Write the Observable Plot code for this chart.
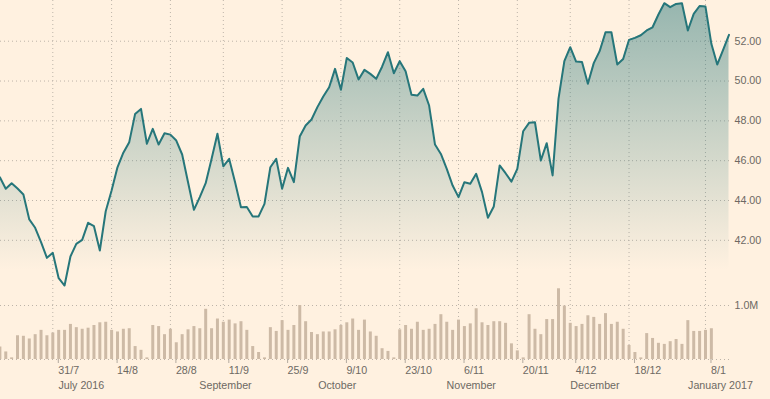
<!DOCTYPE html>
<html><head><meta charset="utf-8">
<script src="https://cdn.jsdelivr.net/npm/d3@7"></script>
<script src="https://cdn.jsdelivr.net/npm/@observablehq/plot@0.6"></script>
<style>
html,body{margin:0;padding:0;background:#fff1e0;}
#chart{position:relative;width:770px;height:399px;overflow:hidden;background:#fff1e0;}
#chart svg{position:absolute;left:0;top:0;}
</style></head><body><div id="chart"></div>
<script>
// Trading-day index 0..124 (19 Jul 2016 .. 13 Jan 2017)
const prices = [
45.17,44.59,44.87,44.60,44.30,43.05,42.63,41.91,41.12,41.37,
40.10,39.73,41.19,41.82,42.02,42.88,42.71,41.49,43.46,44.50,
45.67,46.40,46.93,48.35,48.60,46.85,47.60,46.81,47.38,47.31,
47.01,46.31,44.92,43.53,44.17,44.87,46.09,47.35,45.72,46.09,
44.92,43.66,43.67,43.20,43.20,43.83,45.67,46.09,44.59,45.64,
44.92,47.21,47.77,48.07,48.69,49.22,49.69,50.61,49.56,51.16,
50.93,50.08,50.56,50.36,50.11,50.72,51.45,50.39,51.00,50.49,
49.31,49.27,49.61,48.77,46.81,46.34,45.59,44.75,44.17,44.92,
44.84,45.34,44.42,43.13,43.70,45.76,45.37,44.95,45.59,47.48,
47.90,47.93,46.01,46.88,45.26,49.10,51.00,51.70,50.98,50.96,
49.86,50.90,51.50,52.45,52.45,50.83,51.11,52.07,52.17,52.30,
52.54,52.70,53.34,53.91,53.71,53.87,53.91,52.54,53.37,53.77,
53.74,51.87,50.83,51.56,52.32
];
// Volume in millions, trading-day index 0..121
const volumes = [
0.23,0.14,0.03,0.44,0.43,0.38,0.46,0.54,0.44,0.49,
0.54,0.54,0.65,0.59,0.56,0.58,0.63,0.68,0.69,0.54,
0.51,0.56,0.57,0.24,0.17,0.03,0.63,0.61,0.46,0.56,
0.31,0.46,0.55,0.61,0.57,0.93,0.57,0.75,0.69,0.73,
0.66,0.70,0.54,0.24,0.13,0.03,0.59,0.52,0.72,0.54,
0.63,1.00,0.70,0.50,0.46,0.51,0.51,0.55,0.63,0.68,
0.75,0.54,0.73,0.51,0.43,0.20,0.15,0.03,0.55,0.63,
0.56,0.69,0.54,0.56,0.65,0.83,0.69,0.54,0.73,0.61,
0.66,0.94,0.68,0.63,0.70,0.70,0.67,0.29,0.16,0.03,
0.83,0.56,0.46,0.74,0.74,1.31,0.99,0.67,0.61,0.65,
0.81,0.78,0.65,0.85,0.65,0.69,0.56,0.26,0.13,0.03,
0.48,0.39,0.30,0.28,0.33,0.37,0.28,0.72,0.52,0.52,
0.54,0.57
];
const dayTicks  = [9,19,29,38,48,58,68,78,88,97,107,120];
const dayLabels = ["31/7","14/8","28/8","11/9","25/9","9/10","23/10","6/11","20/11","4/12","18/12","8/1"];
const monthTicks  = [13.85,38.37,57.37,80.17,101.2,122.55];
const monthLabels = ["July 2016","September","October","November","December","January 2017"];
const priceTicks = [42,44,46,48,50,52];
const volumeTicks = [0,1];
const volumeLabels = ["","1.0M"];

const priceData = prices.map((v,i)=>({i,v}));
const volData = volumes.map((v,i)=>({i,v}));

const W = 770, H = 399;
const font = "'Liberation Sans', Arial, sans-serif";
const textColor = "#6d6963";
const gridColor = "#bdb4a9";
const lineColor = "#26767a";
const barColor = "#cdbaa6";
const xOpts = {type:"linear", domain:[0,124], range:[-0.62,728.5]};
const baseStyle = {background:"transparent", fontFamily:font, fontSize:"10.7px", color:textColor, overflow:"visible"};
const priceLow = 39.48, priceHigh = 54.045;

const volPlot = Plot.plot({
  width:W, height:H, marginTop:0, marginBottom:40, marginLeft:0, marginRight:40,
  style: baseStyle,
  x: xOpts,
  y: {domain:[0,6.65]},
  marks:[
    Plot.gridX(dayTicks, {stroke:gridColor, strokeOpacity:1, strokeDasharray:"1,3"}),
    Plot.gridY(volumeTicks, {stroke:gridColor, strokeOpacity:1, strokeDasharray:"1,3"}),
    Plot.ruleX(volData, {x:"i", y1:0, y2:"v", stroke:barColor, strokeWidth:3}),
    Plot.axisX(dayTicks, {tickFormat:d=>dayLabels[dayTicks.indexOf(d)], tickSize:4, tickPadding:3,
      textAnchor:"start", dx:5.5, stroke:"#b3aa9f", fill:textColor, label:null}),
    Plot.axisX(monthTicks, {tickFormat:d=>monthLabels[monthTicks.indexOf(d)], tickSize:0, tickPadding:22,
      fill:textColor, label:null}),
    Plot.axisY(volumeTicks, {anchor:"right", tickFormat:d=>volumeLabels[volumeTicks.indexOf(d)], tickSize:0,
      tickPadding:4, textAnchor:"start", fill:textColor, label:null})
  ]
});

const gradDefs = () => {
  const defs = d3.create("svg:defs");
  const g = defs.append("linearGradient").attr("id","priceGrad")
    .attr("x1",0).attr("y1",0).attr("x2",0).attr("y2",1);
  g.append("stop").attr("offset",0).attr("stop-color",lineColor).attr("stop-opacity",0.48);
  g.append("stop").attr("offset",0.93).attr("stop-color",lineColor).attr("stop-opacity",0);
  g.append("stop").attr("offset",1).attr("stop-color",lineColor).attr("stop-opacity",0);
  return defs.node();
};

const pricePlot = Plot.plot({
  width:W, height:H, marginTop:0, marginBottom:109, marginLeft:0, marginRight:40,
  style: baseStyle,
  x: {...xOpts, axis:null},
  y: {domain:[priceLow, priceHigh]},
  marks:[
    gradDefs,
    Plot.gridY(priceTicks, {stroke:gridColor, strokeOpacity:1, strokeDasharray:"1,3"}),
    Plot.areaY(priceData, {x:"i", y1:priceLow, y2:"v", fill:"url(#priceGrad)"}),
    Plot.lineY(priceData, {x:"i", y:"v", stroke:lineColor, strokeWidth:2}),
    Plot.axisY(priceTicks, {anchor:"right", tickFormat:d3.format(".2f"), tickSize:0, tickPadding:4,
      textAnchor:"start", fill:textColor, label:null})
  ]
});

const chart = document.getElementById("chart");
chart.appendChild(volPlot);
chart.appendChild(pricePlot);
</script>
</body></html>
